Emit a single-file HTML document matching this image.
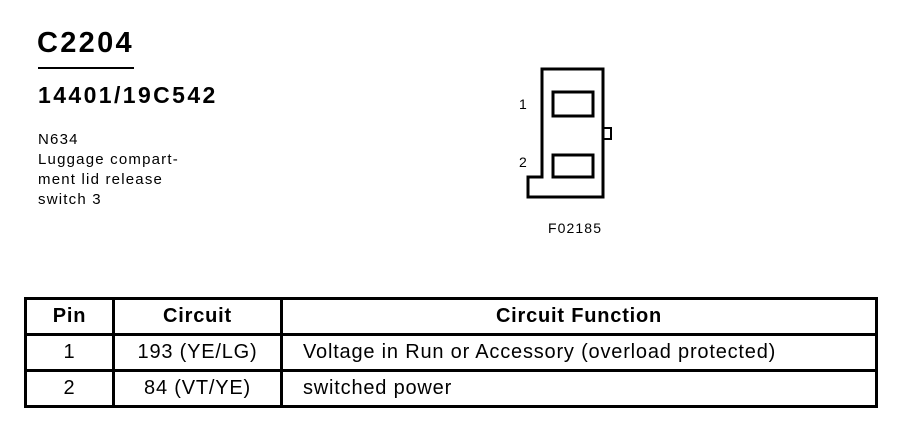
<!DOCTYPE html>
<html><head><style>
html,body{margin:0;padding:0;background:#fff;}
body{width:902px;height:448px;position:relative;overflow:hidden;font-family:"Liberation Sans",sans-serif;color:#000;}
.a{position:absolute;white-space:nowrap;}
table{position:absolute;left:24px;top:297px;border-collapse:collapse;}
td{border:3px solid #000;height:33px;font-size:20px;letter-spacing:0.8px;padding:0;}
</style></head><body>
<div class="a" style="left:37px;top:27px;font-size:29px;letter-spacing:2.3px;font-weight:bold;line-height:32px;">C2204</div>
<div class="a" style="left:38px;top:67px;width:96px;height:2px;background:#000;"></div>
<div class="a" style="left:38px;top:82px;font-size:23px;letter-spacing:2.4px;font-weight:bold;line-height:26px;">14401/19C542</div>
<div class="a" style="left:38px;top:130px;font-size:15px;letter-spacing:1.2px;line-height:20px;">N634<br>Luggage compart-<br>ment lid release<br>switch 3</div>
<svg class="a" style="left:0;top:0" width="902" height="448">
<path d="M542,69 H603 V197 H528 V177 H542 Z" fill="none" stroke="#000" stroke-width="3"/>
<rect x="603" y="128" width="8" height="11" fill="none" stroke="#000" stroke-width="2"/>
<rect x="553" y="92" width="40" height="24" fill="none" stroke="#000" stroke-width="3"/>
<rect x="553" y="155" width="40" height="22" fill="none" stroke="#000" stroke-width="3"/>
<text x="519" y="109" font-size="14" font-family="Liberation Sans">1</text>
<text x="519" y="167" font-size="14" font-family="Liberation Sans">2</text>
<text x="548" y="233" font-size="14" letter-spacing="1.1" font-family="Liberation Sans">F02185</text>
</svg>
<table>
<tr><td style="width:85px;text-align:center;font-weight:bold;">Pin</td><td style="width:165px;text-align:center;font-weight:bold;">Circuit</td><td style="width:592px;text-align:center;font-weight:bold;">Circuit Function</td></tr>
<tr><td style="text-align:center;">1</td><td style="text-align:center;">193 (YE/LG)</td><td style="padding-left:20px;">Voltage in Run or Accessory (overload protected)</td></tr>
<tr><td style="text-align:center;">2</td><td style="text-align:center;">84 (VT/YE)</td><td style="padding-left:20px;">switched power</td></tr>
</table>
</body></html>
